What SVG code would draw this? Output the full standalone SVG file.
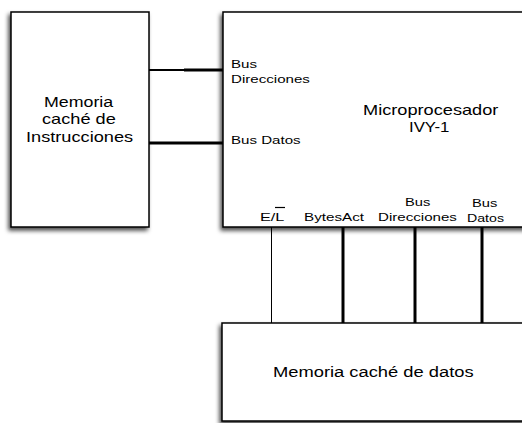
<svg xmlns="http://www.w3.org/2000/svg" width="522" height="423" viewBox="0 0 522 423">
<defs>
<filter id="sh" x="-20%" y="-20%" width="140%" height="140%">
<feDropShadow dx="-2" dy="3" stdDeviation="2" flood-color="#000" flood-opacity="0.7"/>
</filter>
</defs>
<style>
.box{fill:#fff;stroke:#000;stroke-width:1.5;filter:url(#sh)}
.big{font-family:"Liberation Sans",Arial,sans-serif;font-size:14px;fill:#000}
.sm{font-family:"Liberation Sans",Arial,sans-serif;font-size:10.5px;fill:#000}
.thick{stroke:#000;stroke-width:3;fill:none}
.thin{stroke:#000;stroke-width:1;fill:none}
</style>
<rect width="522" height="423" fill="#fff"/>
<g id="connectors">
<line x1="149" y1="70" x2="185" y2="70" stroke="#000" stroke-width="2"/>
<line class="thick" x1="184" y1="70" x2="223" y2="70"/>
<line class="thick" x1="149" y1="143" x2="223" y2="143"/>
<line class="thin" x1="271.5" y1="227" x2="271.5" y2="323"/>
<line class="thick" x1="343" y1="227" x2="343" y2="323"/>
<line class="thick" x1="415" y1="227" x2="415" y2="323"/>
<line class="thick" x1="482" y1="227" x2="482" y2="323"/>
</g>
<g id="cache-instrucciones">
<rect class="box" x="11" y="12" width="138" height="215"/>
<text class="big" transform="translate(44,107) scale(1.27,1)">Memoria</text>
<text class="big" transform="translate(42,124) scale(1.3,1)">caché de</text>
<text class="big" transform="translate(26,142) scale(1.3,1)">Instrucciones</text>
</g>
<g id="microprocesador">
<rect class="box" x="223" y="12" width="310" height="215"/>
<text class="sm" transform="translate(231,68) scale(1.44,1)">Bus</text>
<text class="sm" transform="translate(231,83) scale(1.44,1)">Direcciones</text>
<text class="sm" transform="translate(231,144) scale(1.44,1)">Bus Datos</text>
<text class="big" transform="translate(363,115) scale(1.3,1)">Microprocesador</text>
<text class="big" transform="translate(409,132) scale(1.2,1)">IVY-1</text>
<text class="sm" transform="translate(260,221) scale(1.55,1)">E/L</text>
<line x1="275" y1="207.5" x2="285" y2="207.5" stroke="#000" stroke-width="1.2"/>
<text class="sm" transform="translate(304,221) scale(1.45,1)">BytesAct</text>
<text class="sm" transform="translate(405,206) scale(1.4,1)">Bus</text>
<text class="sm" transform="translate(378,221) scale(1.44,1)">Direcciones</text>
<text class="sm" transform="translate(472,207) scale(1.4,1)">Bus</text>
<text class="sm" transform="translate(467,222) scale(1.35,1)">Datos</text>
</g>
<g id="cache-datos">
<rect class="box" x="222" y="323" width="310" height="98"/>
<text class="big" transform="translate(273,377) scale(1.31,1)">Memoria caché de datos</text>
</g>
</svg>
